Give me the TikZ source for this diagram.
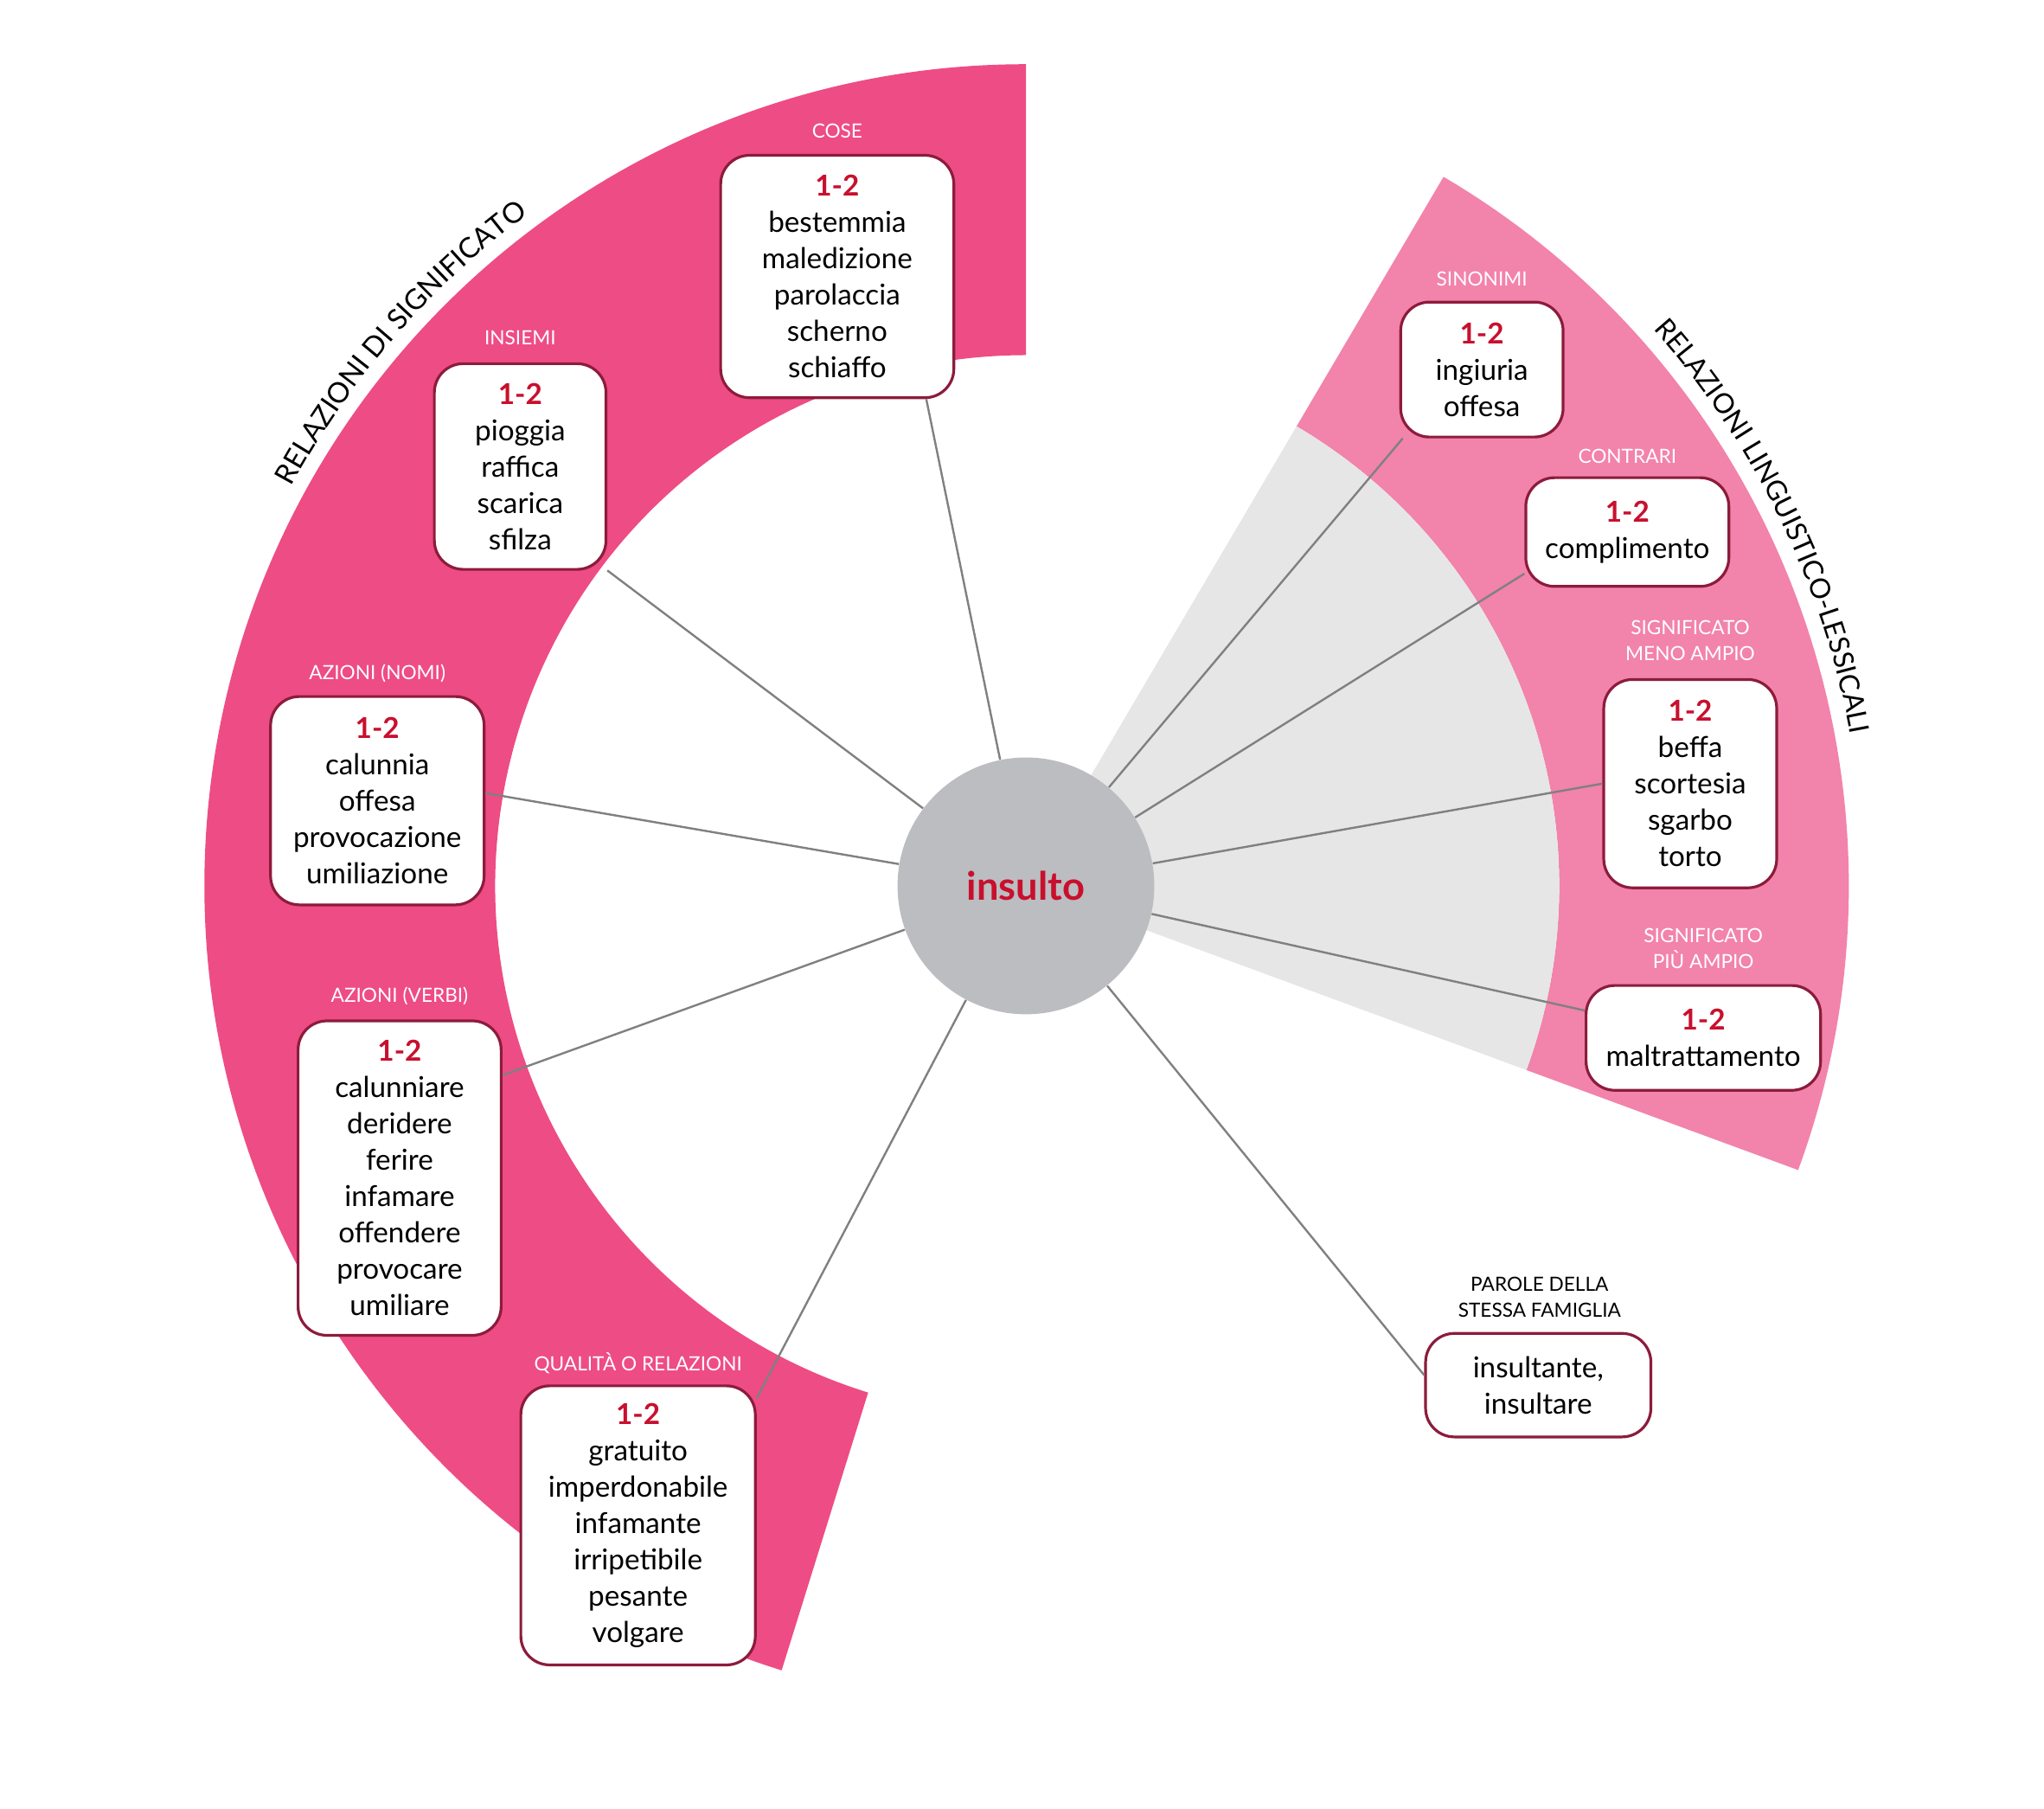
\documentclass[tikz,border=0pt]{standalone}
\usepackage{fontspec}
\setmainfont{Lato}
\usetikzlibrary{decorations.text}
\definecolor{pinkA}{RGB}{238,76,132}
\definecolor{pinkB}{RGB}{242,131,170}
\definecolor{grayL}{RGB}{230,230,230}
\definecolor{grayC}{RGB}{188,189,192}
\definecolor{boxB}{RGB}{140,28,60}
\definecolor{redT}{RGB}{200,16,46}
\definecolor{lineC}{RGB}{128,128,128}
\newcommand{\onetwo}{\textcolor{redT}{\textbf{1-2}}\\}
\begin{document}
\begin{tikzpicture}[x=0.02cm,y=0.02cm,
  box/.style={draw=boxB,line width=1.2pt,fill=white,rounded corners=0.44cm,align=center,
    font=\fontsize{12.5}{15.8}\selectfont,inner sep=0pt},
  lab/.style={font=\fontsize{8.5}{11.2}\selectfont,align=center,text=white},
  con/.style={draw=lineC,line width=0.9pt}]
\useasboundingbox (-783,676) rectangle (777,-704);
% sectors
\fill[pinkA] (90:627) arc[start angle=90,end angle=252.7,radius=627] -- (252.7:405) arc[start angle=252.7,end angle=90,radius=405] -- cycle;
\fill[pinkB] (59.5:628) arc[start angle=59.5,end angle=-20.2,radius=628] -- (-20.2:407) arc[start angle=-20.2,end angle=59.5,radius=407] -- cycle;
\fill[grayL] (0,0) -- (59.5:407) arc[start angle=59.5,end angle=-20.2,radius=407] -- cycle;
% arc texts
\path[decorate,decoration={text along path,text align=center,
  text={|\fontsize{12.3}{14}\selectfont|RELAZIONI DI SIGNIFICATO}}]
  (153:638) arc[start angle=153,end angle=125,radius=638];
\path[decorate,decoration={text along path,text align=center,
  text={|\fontsize{12}{14}\selectfont|RELAZIONI LINGUISTICO-LESSICALI}}]
  (43:640) arc[start angle=43,end angle=9,radius=640];
% center
\node[circle,fill=grayC,minimum size=3.92cm,inner sep=0pt,font=\fontsize{17}{20}\selectfont\bfseries,text=redT] (c) at (0,0) {insulto};
% boxes
\node[box,minimum width=3.56cm,minimum height=3.7cm] (cose) at (-144,465) {\onetwo bestemmia\\maledizione\\parolaccia\\scherno\\schiaffo};
\node[lab] at (-144,576) {COSE};
\node[box,minimum width=2.62cm,minimum height=3.14cm] (ins) at (-386,320) {\onetwo pioggia\\raffica\\scarica\\sfilza};
\node[lab] at (-386,418) {INSIEMI};
\node[box,minimum width=3.26cm,minimum height=3.18cm] (an) at (-495,65) {\onetwo calunnia\\offesa\\provocazione\\umiliazione};
\node[lab] at (-495,162) {AZIONI (NOMI)};
\node[box,minimum width=3.1cm,minimum height=4.8cm] (av) at (-478,-223) {\onetwo calunniare\\deridere\\ferire\\infamare\\offendere\\provocare\\umiliare};
\node[lab] at (-478,-84) {AZIONI (VERBI)};
\node[box,minimum width=3.58cm,minimum height=4.26cm] (q) at (-296,-488) {\onetwo gratuito\\imperdonabile\\infamante\\irripetibile\\pesante\\volgare};
\node[lab] at (-296,-364) {QUALITÀ O RELAZIONI};
\node[box,minimum width=2.48cm,minimum height=2.06cm] (sin) at (348,394) {\onetwo ingiuria\\offesa};
\node[lab] at (348,463) {SINONIMI};
\node[box,minimum width=3.1cm,minimum height=1.66cm] (con) at (459,270) {\onetwo complimento};
\node[lab] at (459,328) {CONTRARI};
\node[box,minimum width=2.64cm,minimum height=3.18cm] (meno) at (507,78) {\onetwo beffa\\scortesia\\sgarbo\\torto};
\node[lab] at (507,187) {SIGNIFICATO\\MENO AMPIO};
\node[box,minimum width=3.58cm,minimum height=1.6cm] (piu) at (517,-116) {\onetwo maltrattamento};
\node[lab] at (517,-48) {SIGNIFICATO\\PIÙ AMPIO};
\node[box,minimum width=3.44cm,minimum height=1.58cm] (par) at (391,-381) {insultante,\\insultare};
\node[lab,text=black] at (392,-314) {PAROLE DELLA\\STESSA FAMIGLIA};
% connectors
\draw[con] (c) -- (cose.-54);
\draw[con] (c) -- (ins.-50);
\draw[con] (c) -- (an.4);
\draw[con] (c) -- (av.45);
\draw[con] (c) -- (q.47);
\draw[con] (c) -- (sin.221);
\draw[con] (c) -- (con.202);
\draw[con] (c) -- (meno.west);
\draw[con] (c) -- (piu.167);
\draw[con] (c) -- (par.175);
\end{tikzpicture}
\end{document}
